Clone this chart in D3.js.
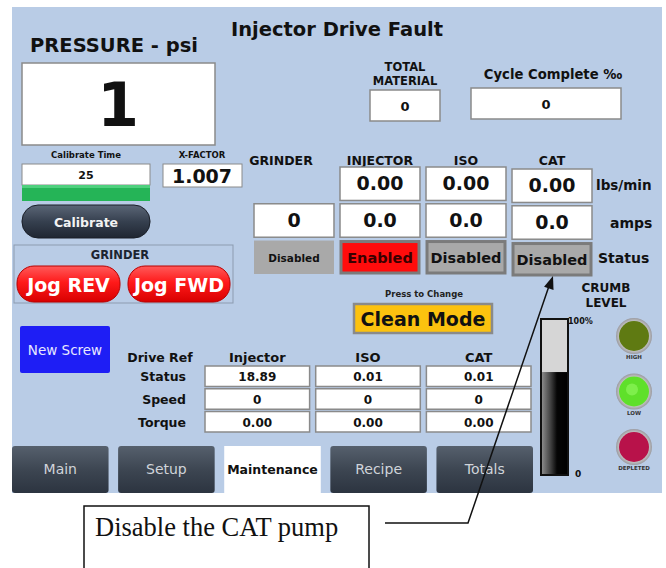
<!DOCTYPE html>
<html><head><meta charset="utf-8">
<script src="https://cdn.jsdelivr.net/npm/d3@7/dist/d3.min.js"></script>
<style>
html,body{margin:0;padding:0;background:#fff;}
svg{display:block;}
</style></head>
<body>
<svg id="c" width="666" height="568"></svg>
<script>
// ---- data ----
const title = "Injector Drive Fault";
const pressure = 1;
const calibrateTime = 25;
const xFactor = "1.007";
const totalMaterial = 0;
const cycleComplete = 0;
const pumpColumns = ["GRINDER", "INJECTOR", "ISO", "CAT"];
const pumpRows = ["lbs/min", "amps", "Status"];
const lbsPerMin = [null, "0.00", "0.00", "0.00"];
const amps = ["0", "0.0", "0.0", "0.0"];
const pumpStatus = ["Disabled", "Enabled", "Disabled", "Disabled"];
const driveColumns = ["Injector", "ISO", "CAT"];
const driveRows = ["Status", "Speed", "Torque"];
const driveStatus = ["18.89", "0.01", "0.01"];
const driveSpeed = ["0", "0", "0"];
const driveTorque = ["0.00", "0.00", "0.00"];
const tabs = ["Main", "Setup", "Maintenance", "Recipe", "Totals"];
const activeTab = "Maintenance";
const crumbLevel = 66; // percent
const crumbLights = ["HIGH", "LOW", "DEPLETED"];
const lightColors = ["#5f7a12", "#5fe02a", "#b8124a"];
const callout = "Disable the CAT pump";

const svg = d3.select("#c");
const defs = svg.append("defs");
function grad(id, stops, x2, y2){
  const g = defs.append("linearGradient").attr("id", id)
    .attr("x1", 0).attr("y1", 0).attr("x2", x2 || 0).attr("y2", y2 === undefined ? 1 : y2);
  stops.forEach(s => g.append("stop").attr("offset", s[0]).attr("stop-color", s[1]));
}
grad("tabG", [[0, "#56606d"], [0.5, "#3d4652"], [1, "#2c3440"]]);
grad("calG", [[0, "#5b6677"], [0.5, "#36404f"], [1, "#1f2632"]]);
grad("redG", [[0, "#ff5a5a"], [0.45, "#ff1a1a"], [1, "#d80000"]]);
grad("gaugeG", [[0, "#8a8a8a"], [0.35, "#404040"], [0.6, "#050505"], [1, "#000"]], 1, 0);
const rg = defs.append("radialGradient").attr("id", "ringG");
rg.append("stop").attr("offset", 0.8).attr("stop-color", "#c9c9c9");
rg.append("stop").attr("offset", 1).attr("stop-color", "#9a9aa0");

// panel
svg.append("rect").attr("x", 12).attr("y", 7).attr("width", 650).attr("height", 486).attr("fill", "#b9cce6");

function txt(x, y, s, size, opts){
  opts = opts || {};
  return svg.append("text").attr("x", x).attr("y", y)
    .style("font-size", size + "px").attr("text-anchor", opts.anchor || "middle")
    .attr("fill", opts.fill || "#111")
    .style("font-family", opts.family || "'DejaVu Sans', sans-serif")
    .style("font-weight", opts.weight || "bold")
    .text(s);
}
function box(x, y, w, h, fill, stroke, sw){
  return svg.append("rect").attr("x", x).attr("y", y).attr("width", w).attr("height", h)
    .attr("fill", fill || "#fff").attr("stroke", stroke || "#7d7d7d").attr("stroke-width", sw || 1.5);
}

// title & pressure
txt(337, 36, title, 19.5);
txt(30, 52, "PRESSURE - psi", 19.5, {anchor: "start"});
box(22, 63, 193, 82, "#fff", "#8a8a8a", 1.5);
txt(118, 126, pressure, 60);

// calibrate time / x-factor
txt(86, 158, "Calibrate Time", 8.5);
box(22, 164, 128, 21, "#fff", "#8a8a8a", 1);
txt(86, 179, calibrateTime, 11);
svg.append("rect").attr("x", 22).attr("y", 185).attr("width", 128).attr("height", 16).attr("fill", "#25b457");
svg.append("rect").attr("x", 22).attr("y", 185).attr("width", 128).attr("height", 3).attr("fill", "#4fd07e");
txt(202, 158, "X-FACTOR", 8.5);
box(163, 164, 79, 23, "#fff", "#8a8a8a", 1);
txt(202, 183, xFactor, 19);

// calibrate button
svg.append("rect").attr("x", 22).attr("y", 205).attr("width", 128).attr("height", 33).attr("rx", 16)
  .attr("fill", "url(#calG)").attr("stroke", "#1a1f28").attr("stroke-width", 1);
txt(86, 227, "Calibrate", 12.5, {fill: "#f2f2f2"});

// grinder group
box(14, 245, 219, 58, "none", "#8d9bb0", 1);
txt(120, 259, "GRINDER", 11.5, {fill: "#1c2430"});
[["Jog REV", 17, 103], ["Jog FWD", 128, 102]].forEach(b => {
  svg.append("rect").attr("x", b[1]).attr("y", 266).attr("width", b[2]).attr("height", 36).attr("rx", 17)
    .attr("fill", "url(#redG)").attr("stroke", "#b80000").attr("stroke-width", 1);
  txt(b[1] + b[2] / 2, 292, b[0], 19, {fill: "#fff"});
});

// new screw
svg.append("rect").attr("x", 20).attr("y", 326).attr("width", 90).attr("height", 47).attr("rx", 2).attr("fill", "#1e1ef5");
txt(65, 355, "New Screw", 13.5, {fill: "#e8e8ff", weight: "normal"});

// total material / cycle complete
txt(405, 71, "TOTAL", 11.5);
txt(405, 85, "MATERIAL", 11.5);
box(370, 90, 70, 31, "#fff", "#8a8a8a", 1.5);
txt(405, 111, totalMaterial, 13);
txt(553, 79, "Cycle Complete \u2030", 13.2);
box(471, 88, 150, 31, "#fff", "#8a8a8a", 1.5);
txt(546, 109, cycleComplete, 13);

// pump grid
const xp = d3.scaleBand().domain(pumpColumns).range([254, 592]).paddingInner(0.07);
const yp = d3.scaleBand().domain(pumpRows).range([167, 274]).paddingInner(0.09);
pumpColumns.forEach((c, i) => {
  txt(xp(c) + xp.bandwidth() / 2 + (i === 0 ? -13 : 0), 165, c, 12.5);
  if (lbsPerMin[i] !== null) {
    const yo = i === 3 ? 2 : 0;
    box(xp(c), yp("lbs/min") + yo, xp.bandwidth(), yp.bandwidth(), "#fff", "#8a8a8a", 1.5);
    txt(xp(c) + xp.bandwidth() / 2, yp("lbs/min") + yo + 23, lbsPerMin[i], 19);
  }
  const ya = i === 3 ? 2 : 0;
  box(xp(c), yp("amps") + ya, xp.bandwidth(), yp.bandwidth(), "#fff", "#8a8a8a", 1.5);
  txt(xp(c) + xp.bandwidth() / 2, yp("amps") + ya + 23, amps[i], 19);
  const s = pumpStatus[i];
  const ys = i === 3 ? 2 : 0;
  if (i === 0) {
    svg.append("rect").attr("x", xp(c)).attr("y", yp("Status") + ys).attr("width", xp.bandwidth()).attr("height", yp.bandwidth())
      .attr("fill", "#a9a9a9");
    txt(xp(c) + xp.bandwidth() / 2, yp("Status") + ys + 21, s, 10.5);
  } else {
    box(xp(c) + 1, yp("Status") + ys + 1, xp.bandwidth() - 2, yp.bandwidth() - 2,
        s === "Enabled" ? "#ff0c0c" : "#a9a9a9", "#7b7b7b", 3);
    txt(xp(c) + xp.bandwidth() / 2, yp("Status") + ys + 22, s, 14.5, {fill: s === "Enabled" ? "#3a0000" : "#111"});
  }
});
txt(596, 190, "lbs/min", 13.5, {anchor: "start"});
txt(610, 228, "amps", 14, {anchor: "start"});
txt(598, 263, "Status", 14, {anchor: "start"});

// clean mode
txt(424, 297, "Press to Change", 8.5, {fill: "#222"});
box(354, 304, 138, 29, "#fcc20f", "#8a8a8a", 2.5);
txt(423, 326, "Clean Mode", 19);

// drive table
const xd = d3.scaleBand().domain(driveColumns).range([205, 531]).paddingInner(0.055);
const yd = d3.scaleBand().domain(driveRows).range([366, 432]).paddingInner(0.1);
txt(160, 362, "Drive Ref", 12.5);
driveColumns.forEach(c => txt(xd(c) + xd.bandwidth() / 2, 362, c, 13));
const driveVals = {Status: driveStatus, Speed: driveSpeed, Torque: driveTorque};
driveRows.forEach(r => {
  txt(186, yd(r) + 15, r, 12.5, {anchor: "end"});
  driveColumns.forEach((c, j) => {
    box(xd(c), yd(r), xd.bandwidth(), yd.bandwidth(), "#fff", "#8a8a8a", 1.5);
    txt(xd(c) + xd.bandwidth() / 2, yd(r) + 15, driveVals[r][j], 12);
  });
});

// tabs
const xt = d3.scaleBand().domain(tabs).range([12, 533]).paddingInner(0.09);
tabs.forEach(t => {
  const on = t === activeTab;
  svg.append("rect").attr("x", xt(t)).attr("y", 446).attr("width", xt.bandwidth()).attr("height", 47).attr("rx", on ? 0 : 3)
    .attr("fill", on ? "#fff" : "url(#tabG)");
  txt(xt(t) + xt.bandwidth() / 2, 474, t, on ? 12.5 : 14, {fill: on ? "#111" : "#d0d4da", weight: on ? "bold" : "normal"});
});

// crumb level gauge
txt(606, 292, "CRUMB", 12);
txt(606, 307, "LEVEL", 12);
const yg = d3.scaleLinear().domain([0, 100]).range([475, 319]);
svg.append("rect").attr("x", 541).attr("y", yg(100)).attr("width", 27).attr("height", yg(0) - yg(100))
  .attr("fill", "#d6d6d6");
svg.append("rect").attr("x", 542).attr("y", yg(crumbLevel)).attr("width", 25).attr("height", yg(0) - yg(crumbLevel))
  .attr("fill", "url(#gaugeG)");
svg.append("rect").attr("x", 541).attr("y", yg(100)).attr("width", 27).attr("height", yg(0) - yg(100))
  .attr("fill", "none").attr("stroke", "#111").attr("stroke-width", 2);
txt(568, 324, "100%", 8, {anchor: "start"});
txt(575, 477, "0", 9, {anchor: "start"});

// lights
const yl = d3.scalePoint().domain(crumbLights).range([336, 447]);
crumbLights.forEach((l, i) => {
  svg.append("circle").attr("cx", 634).attr("cy", yl(l)).attr("r", 18).attr("fill", "url(#ringG)");
  svg.append("circle").attr("cx", 634).attr("cy", yl(l)).attr("r", 15).attr("fill", lightColors[i]);
  if (l === "LOW") svg.append("circle").attr("cx", 632).attr("cy", yl(l) - 2).attr("r", 6).attr("fill", "#8cf55a").attr("opacity", 0.7);
  txt(634, yl(l) + 23, l, 5.5, {fill: "#333"});
});

// callout
svg.append("rect").attr("x", 84).attr("y", 506).attr("width", 285).attr("height", 70)
  .attr("fill", "#fff").attr("stroke", "#111").attr("stroke-width", 1.5);
txt(95, 536, callout, 26.5, {anchor: "start", family: "'Liberation Serif', 'Times New Roman', serif", weight: "normal", fill: "#111"});
svg.append("path").attr("d", "M385,523 L468,523 L549,286").attr("fill", "none").attr("stroke", "#111").attr("stroke-width", 1.5);
const ax = 553, ay = 276, ang = Math.atan2(286 - 523, 549 - 468);
const hl = 13, hw = 5;
const bx = ax - hl * Math.cos(ang), by = ay - hl * Math.sin(ang);
const px = -Math.sin(ang), py = Math.cos(ang);
svg.append("path").attr("d", `M${ax},${ay} L${bx + hw * px},${by + hw * py} L${bx - hw * px},${by - hw * py} Z`).attr("fill", "#111");
</script>
</body></html>
